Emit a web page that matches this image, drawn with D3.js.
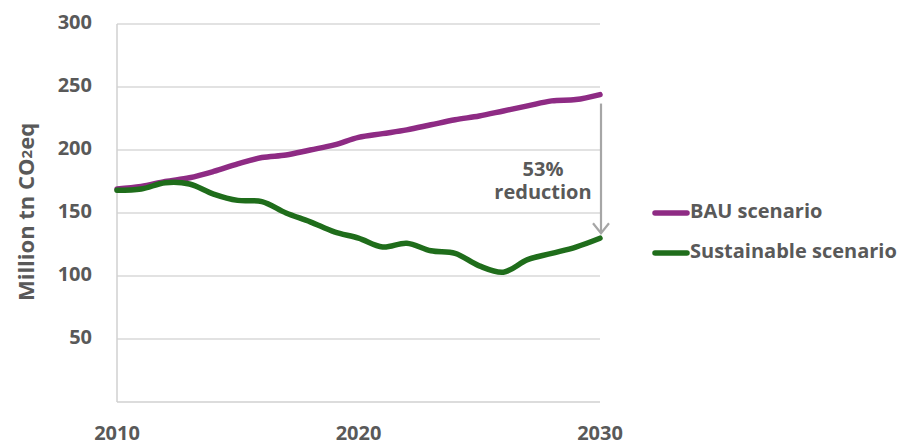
<!DOCTYPE html>
<html>
<head>
<meta charset="utf-8">
<script src="https://cdn.jsdelivr.net/npm/d3@7"></script>
<style>
  body { margin: 0; background: #fff; }
  text { font-family: "Open Sans", Lato, sans-serif; font-weight: bold; fill: #595959; }
</style>
</head>
<body>
<script>
var years = d3.range(2010, 2031);
var bau = [169,171,175,178,183,189,194,196,200,204,210,213,216,220,224,227,231,235,239,240,244];
var sustainable = [168,169,174,173,165,160,159,150,143,135,130,123,126,120,118,108,103,113,118,123,130];
var yTicks = [50,100,150,200,250,300];
var xTicks = [2010,2020,2030];
var seriesNames = ['BAU scenario','Sustainable scenario'];
var seriesColors = ['#8e2b84','#1f6d1b'];

var W = 907, H = 443;
var mLeft = 117, mRight = 600, mTop = 24, mBottom = 402;

var x = d3.scaleLinear().domain([2010,2030]).range([mLeft,mRight]);
var y = d3.scaleLinear().domain([0,300]).range([mBottom,mTop]);

var svg = d3.select("body").append("svg").attr("width",W).attr("height",H);

// gridlines
svg.append("g").selectAll("line")
  .data(yTicks)
  .enter().append("line")
    .attr("x1",mLeft).attr("x2",mRight)
    .attr("y1",function(d){return y(d);})
    .attr("y2",function(d){return y(d);})
    .attr("stroke","#d9d9d9").attr("stroke-width",1.3);

// axis lines
svg.append("line").attr("x1",mLeft).attr("x2",mLeft).attr("y1",mTop).attr("y2",mBottom)
  .attr("stroke","#d0d0d0").attr("stroke-width",1.5);
svg.append("line").attr("x1",mLeft).attr("x2",mRight).attr("y1",mBottom).attr("y2",mBottom)
  .attr("stroke","#d0d0d0").attr("stroke-width",1.5);

// y tick labels
svg.append("g").selectAll("text")
  .data(yTicks)
  .enter().append("text")
    .attr("x",92)
    .attr("y",function(d){return y(d);})
    .attr("text-anchor","end")
    .attr("dominant-baseline","middle")
    .attr("font-size","20px")
    .text(function(d){return d;});

// x tick labels
svg.append("g").selectAll("text")
  .data(xTicks)
  .enter().append("text")
    .attr("x",function(d){return x(d);})
    .attr("y",435)
    .attr("text-anchor","middle")
    .attr("dominant-baseline","middle")
    .attr("font-size","20px")
    .text(function(d){return d;});

// y title
var yt = svg.append("text")
  .attr("transform","translate(28,212) rotate(-90)")
  .attr("text-anchor","middle")
  .attr("dominant-baseline","middle")
  .attr("font-size","22px");
yt.append("tspan").text("Million tn CO");
yt.append("tspan").attr("font-size","15px").text("2");
yt.append("tspan").text("eq");

// lines
var line = d3.line()
  .x(function(d,i){return x(years[i]);})
  .y(function(d){return y(d);})
  .curve(d3.curveCatmullRom.alpha(0.5));

[bau, sustainable].forEach(function(s,i){
  svg.append("path")
    .datum(s)
    .attr("d",line)
    .attr("fill","none")
    .attr("stroke",seriesColors[i])
    .attr("stroke-width",5.5)
    .attr("stroke-linecap","round");
});

// reduction arrow
var ax = x(2030) + 1;
var yEnd = y(sustainable[20]);
svg.append("line").attr("x1",ax).attr("x2",ax)
  .attr("y1",y(bau[20]) + 9).attr("y2",yEnd - 5)
  .attr("stroke","#a6a6a6").attr("stroke-width",2.2);
svg.append("path")
  .attr("d","M"+(ax-8)+","+(yEnd-15)+"L"+ax+","+(yEnd-5)+"L"+(ax+8)+","+(yEnd-15))
  .attr("fill","none").attr("stroke","#a6a6a6").attr("stroke-width",2.2);

svg.append("text").attr("x",543).attr("y",171).attr("text-anchor","middle")
  .attr("dominant-baseline","middle").attr("font-size","20px").text("53%");
svg.append("text").attr("x",543).attr("y",194).attr("text-anchor","middle")
  .attr("dominant-baseline","middle").attr("font-size","20px").text("reduction");

// legend
var lg = svg.append("g").selectAll("g")
  .data(seriesNames)
  .enter().append("g")
    .attr("transform",function(d,i){return "translate(655,"+(213+i*40)+")";});
lg.append("line").attr("x1",0).attr("x2",32).attr("y1",0).attr("y2",0)
  .attr("stroke",function(d,i){return seriesColors[i];})
  .attr("stroke-width",5.5).attr("stroke-linecap","round");
lg.append("text").attr("x",35).attr("y",0)
  .attr("dominant-baseline","middle").attr("font-size","20px")
  .text(function(d){return d;});
</script>
</body>
</html>
